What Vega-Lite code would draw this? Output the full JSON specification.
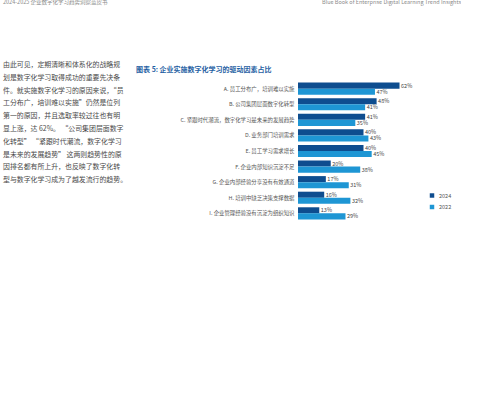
{
  "$schema": "https://vega.github.io/schema/vega-lite/v6.json",
  "padding": {"left": 3, "top": 0, "right": 0, "bottom": 0},
  "background": "white",
  "config": {
    "view": {"stroke": null},
    "font": "Noto Sans CJK SC"
  },
  "spacing": 55,
  "vconcat": [
    {
      "width": 458,
      "height": 4,
      "layer": [
        {
          "data": {"values": [{"t": "2024-2025 企业数字化学习趋势洞察蓝皮书"}]},
          "mark": {"type": "text", "align": "left", "baseline": "middle", "fontSize": 5.5, "color": "#8a8a8a"},
          "encoding": {
            "text": {"field": "t"},
            "x": {"datum": 0, "type": "quantitative", "scale": {"domain": [0, 1]}, "axis": null}
          }
        },
        {
          "data": {"values": [{"t": "Blue Book of Enterprise Digital Learning Trend Insights"}]},
          "mark": {"type": "text", "align": "right", "baseline": "middle", "fontSize": 5.5, "color": "#8a8a8a"},
          "encoding": {
            "text": {"field": "t"},
            "x": {"datum": 1, "type": "quantitative", "scale": {"domain": [0, 1]}, "axis": null}
          }
        }
      ]
    },
    {
      "spacing": 8,
      "hconcat": [
        {
          "width": 122,
          "height": 140,
          "data": {
            "values": [
              {"line": 1, "t": "由此可见，定期清晰和体系化的战略规"},
              {"line": 2, "t": "划是数字化学习取得成功的重要先决条"},
              {"line": 3, "t": "件。就实施数字化学习的原因来说，“员"},
              {"line": 4, "t": "工分布广，培训难以实施”仍然是位列"},
              {"line": 5, "t": "第一的原因，并且选取率较过往也有明"},
              {"line": 6, "t": "显上涨，达 62%。 “公司集团层面数字"},
              {"line": 7, "t": "化转型” “紧跟时代潮流，数字化学习"},
              {"line": 8, "t": "是未来的发展趋势” 这两则趋势性的原"},
              {"line": 9, "t": "因排名都有所上升，也反映了数字化转"},
              {"line": 10, "t": "型与数字化学习成为了越发流行的趋势。"}
            ]
          },
          "mark": {"type": "text", "align": "left", "baseline": "middle", "fontSize": 6.9, "color": "#4a4a4a"},
          "encoding": {
            "text": {"field": "t"},
            "x": {"datum": 0, "type": "quantitative", "scale": {"domain": [0, 1]}, "axis": null},
            "y": {
              "field": "line",
              "type": "quantitative",
              "scale": {"domain": [2.25, 13.1875], "reverse": true, "nice": false, "zero": false},
              "axis": null
            }
          }
        },
        {
          "width": 131,
          "height": 140,
          "title": {
            "text": "图表 5: 企业实施数字化学习的驱动因素占比",
            "anchor": "start",
            "frame": "bounds",
            "dx": -44,
            "offset": 8,
            "fontSize": 7,
            "fontWeight": "bold",
            "color": "#1f5fa3"
          },
          "data": {
            "values": [
              {"factor": "A. 员工分布广，培训难以实施", "year": "2024", "pct": 0.62},
              {"factor": "A. 员工分布广，培训难以实施", "year": "2022", "pct": 0.47},
              {"factor": "B. 公司集团层面数字化转型", "year": "2024", "pct": 0.48},
              {"factor": "B. 公司集团层面数字化转型", "year": "2022", "pct": 0.41},
              {"factor": "C. 紧跟时代潮流，数字化学习是未来的发展趋势", "year": "2024", "pct": 0.41},
              {"factor": "C. 紧跟时代潮流，数字化学习是未来的发展趋势", "year": "2022", "pct": 0.35},
              {"factor": "D. 业务部门培训需求", "year": "2024", "pct": 0.40},
              {"factor": "D. 业务部门培训需求", "year": "2022", "pct": 0.43},
              {"factor": "E. 员工学习需求增长", "year": "2024", "pct": 0.40},
              {"factor": "E. 员工学习需求增长", "year": "2022", "pct": 0.45},
              {"factor": "F. 企业内部知识沉淀不足", "year": "2024", "pct": 0.20},
              {"factor": "F. 企业内部知识沉淀不足", "year": "2022", "pct": 0.38},
              {"factor": "G. 企业内部经验分享没有有效通道", "year": "2024", "pct": 0.17},
              {"factor": "G. 企业内部经验分享没有有效通道", "year": "2022", "pct": 0.31},
              {"factor": "H. 培训中缺乏决策支撑数据", "year": "2024", "pct": 0.16},
              {"factor": "H. 培训中缺乏决策支撑数据", "year": "2022", "pct": 0.32},
              {"factor": "I. 企业管理经验没有沉淀为组织知识", "year": "2024", "pct": 0.13},
              {"factor": "I. 企业管理经验没有沉淀为组织知识", "year": "2022", "pct": 0.29}
            ]
          },
          "encoding": {
            "y": {
              "field": "factor",
              "type": "nominal",
              "sort": null,
              "scale": {"paddingInner": 0.22, "paddingOuter": 0.1},
              "axis": {
                "title": null,
                "ticks": false,
                "domain": false,
                "labelFontSize": 5.4,
                "labelColor": "#555555",
                "labelPadding": 4,
                "labelLimit": 300
              }
            },
            "yOffset": {"field": "year", "sort": ["2024", "2022"]},
            "x": {
              "field": "pct",
              "type": "quantitative",
              "scale": {"domain": [0, 0.8]},
              "axis": null
            }
          },
          "layer": [
            {
              "mark": {"type": "bar"},
              "encoding": {
                "color": {
                  "field": "year",
                  "type": "nominal",
                  "scale": {"domain": ["2024", "2022"], "range": ["#0e4d8f", "#1e96d4"]},
                  "legend": {
                    "title": null,
                    "orient": "none",
                    "legendX": 426,
                    "legendY": 192.5,
                    "symbolType": "square",
                    "symbolSize": 20,
                    "labelFontSize": 5.5,
                    "labelColor": "#555555",
                    "rowPadding": 4.5
                  }
                }
              }
            },
            {
              "mark": {"type": "text", "align": "left", "baseline": "middle", "dx": 1.5, "fontSize": 5.5, "color": "#444444"},
              "encoding": {
                "text": {"field": "pct", "type": "quantitative", "format": ".0%"}
              }
            }
          ]
        }
      ]
    }
  ]
}
